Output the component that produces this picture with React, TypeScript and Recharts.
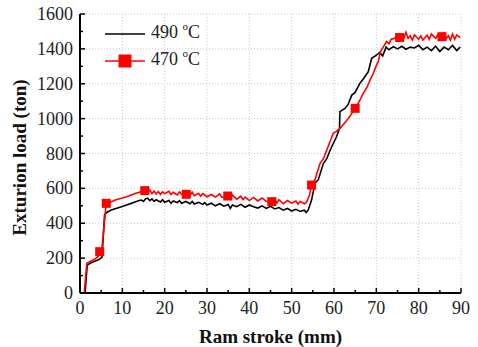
import React from 'react';
import { ComposedChart, Line, Scatter, XAxis, YAxis, CartesianGrid } from 'recharts';

// 490 °C extrusion load vs ram stroke
const X490 = [1.2, 1.7, 2.5, 3.5, 4.5, 5.2, 5.8, 6.5, 7.4, 8.5, 9.8, 11, 12.1, 13, 14, 14.5, 15, 15.5, 16, 16.5, 17, 17.5, 18, 19, 19.5, 20, 21, 21.5, 22, 23, 23.5, 24, 25, 26, 26.5, 27, 28, 29, 29.5, 30, 31, 32, 33, 34, 35, 35.5, 36, 37, 38, 39, 40, 41, 42, 43, 44, 45, 46, 47, 48, 49, 50, 51, 52, 53, 53.4, 53.9, 54.7, 55.5, 56.3, 57.5, 58.3, 59.1, 60.6, 61.3, 61.4, 62.6, 63.3, 64.2, 65, 66.1, 67, 68.1, 68.9, 70.1, 70.8, 71.5, 72.3, 73, 74, 75, 76, 77, 78, 79, 80, 81, 82, 83, 84, 85, 86, 87, 88, 89, 89.8];
const Y490 = [0, 160, 172, 182, 192, 205, 450, 465, 476, 485, 495, 505, 514, 522, 530, 533, 525, 540, 543, 530, 540, 525, 535, 522, 535, 520, 530, 515, 528, 518, 530, 515, 525, 512, 525, 510, 520, 508, 518, 505, 515, 500, 512, 498, 508, 485, 505, 495, 508, 492, 505, 495, 487, 500, 485, 497, 482, 490, 475, 485, 470, 480, 468, 475, 462, 476, 533, 629, 650, 744, 770, 820, 896, 944, 1040, 1059, 1080, 1135, 1150, 1202, 1230, 1269, 1346, 1365, 1380, 1360, 1410, 1395, 1413, 1400, 1415, 1398, 1410, 1405, 1420, 1395, 1410, 1390, 1415, 1385, 1410, 1395, 1420, 1390, 1410];

// 470 °C
const X470 = [1.0, 1.6, 2.5, 3.5, 4.25, 4.65, 5.2, 6.2, 7.4, 8.5, 9.8, 11, 12.1, 13, 14, 15.3, 16, 16.5, 17, 17.5, 18, 18.5, 19, 19.5, 20, 21, 21.5, 22, 23, 23.5, 24, 25.1, 26, 26.5, 27, 28, 28.5, 29, 30, 31, 32, 33, 33.5, 34.9, 35.5, 36, 37, 38, 38.5, 39, 40, 41, 42, 43, 44, 45.3, 46, 46.5, 47, 48, 49, 50, 51, 51.5, 52, 53, 53.5, 54.2, 54.7, 55.5, 56.7, 57.5, 58.3, 59.1, 59.8, 60.5, 61.4, 62.5, 63.4, 64.2, 65, 66, 66.9, 67.8, 68.5, 69.3, 69.9, 70.5, 70.9, 71.7, 72.4, 73, 73.5, 74.4, 74.8, 75.5, 76, 76.5, 77, 77.5, 78, 78.5, 79, 80, 80.5, 81, 82, 82.5, 83, 84, 84.5, 85, 86, 86.5, 87, 87.5, 88, 88.5, 89, 89.8];
const Y470 = [0, 170, 182, 195, 208, 237, 260, 514, 524, 535, 543, 552, 562, 570, 578, 587, 575, 590, 570, 585, 568, 582, 565, 580, 570, 583, 565, 578, 562, 580, 565, 566, 562, 578, 558, 572, 555, 570, 552, 565, 550, 568, 548, 556, 540, 562, 538, 555, 535, 550, 530, 548, 528, 545, 525, 524, 540, 515, 535, 512, 530, 515, 528, 510, 525, 512, 520, 560, 619, 650, 744, 770, 820, 870, 916, 925, 944, 975, 1002, 1030, 1059, 1100, 1145, 1180, 1221, 1260, 1298, 1330, 1380, 1413, 1442, 1430, 1455, 1461, 1479, 1455, 1480, 1460, 1495, 1460, 1475, 1450, 1480, 1455, 1475, 1450, 1478, 1455, 1485, 1460, 1480, 1455, 1490, 1460, 1475, 1450, 1485, 1455, 1480, 1465];

// square markers on the 470 °C curve
const MARK_X = [4.65, 6.2, 15.3, 25.1, 34.9, 45.3, 54.7, 65, 75.5, 85.5];
const MARK_Y = [237, 514, 587, 566, 556, 524, 619, 1059, 1465, 1470];

const X_TICKS = [0, 5, 10, 15, 20, 25, 30, 35, 40, 45, 50, 55, 60, 65, 70, 75, 80, 85, 90];
const X_MAJOR = [10, 20, 30, 40, 50, 60, 70, 80, 90];
const Y_TICKS = [0, 100, 200, 300, 400, 500, 600, 700, 800, 900, 1000, 1100, 1200, 1300, 1400, 1500, 1600];
const Y_MAJOR = [200, 400, 600, 800, 1000, 1200, 1400, 1600];

const FONT = '"Liberation Serif", "Times New Roman", serif';

const data490 = X490.map((x, i) => ({ x, y: Y490[i] }));
const data470 = X470.map((x, i) => ({ x, y: Y470[i] }));
const marks = MARK_X.map((x, i) => ({ x, y: MARK_Y[i] }));

function XTick({ x, y, payload }: any) {
  const v = payload.value;
  const major = v % 10 === 0;
  return (
    <g>
      <line x1={x} x2={x} y1={y} y2={y - (major ? 5 : 3)} stroke="#000" strokeWidth={1.5} />
      {major && (
        <text x={x} y={y + 21} textAnchor="middle" fontFamily={FONT} fontSize={18} fill="#222">{v}</text>
      )}
    </g>
  );
}

function YTick({ x, y, payload }: any) {
  const v = payload.value;
  const major = v % 200 === 0;
  return (
    <g>
      <line x1={x} x2={x + (major ? 5 : 3)} y1={y} y2={y} stroke="#000" strokeWidth={1.5} />
      {major && (
        <text x={x - 7} y={y + 6} textAnchor="end" fontFamily={FONT} fontSize={18} fill="#222">{v}</text>
      )}
    </g>
  );
}

const Square = (props: any) => {
  const { cx, cy } = props;
  return <rect x={cx - 4.5} y={cy - 4.5} width={9} height={9} fill="#ff0000" />;
};

export default function App() {
  return (
    <div style={{ position: 'absolute', left: 0, top: 0, width: 478, height: 347, background: '#fff' }}>
      <ComposedChart width={478} height={347} margin={{ top: 14, right: 17, left: 0, bottom: 0 }}>
        <CartesianGrid stroke="#c8c8c8" strokeDasharray="1 2" verticalValues={X_MAJOR} horizontalValues={Y_MAJOR} />
        <XAxis
          type="number" dataKey="x" domain={[0, 90]} ticks={X_TICKS} interval={0}
          height={54} tickSize={0} tickMargin={0} tickLine={false} tick={<XTick />}
          axisLine={{ stroke: '#000', strokeWidth: 2 }}
          label={(p: any) => {
            const vb = p.viewBox;
            return (
              <text x={vb.x + vb.width / 2} y={vb.y + vb.height - 4} textAnchor="middle" fontFamily={FONT} fontSize={19} fontWeight="bold" fill="#111">
                Ram stroke (mm)
              </text>
            );
          }}
        />
        <YAxis
          type="number" dataKey="y" domain={[0, 1600]} ticks={Y_TICKS} interval={0}
          width={80} tickSize={0} tickMargin={0} tickLine={false} tick={<YTick />}
          axisLine={{ stroke: '#000', strokeWidth: 2 }}
          label={(p: any) => {
            const vb = p.viewBox;
            const cx = 26;
            const cy = vb.y + vb.height / 2 + 4;
            return (
              <text x={cx} y={cy} transform={`rotate(-90 ${cx} ${cy})`} textAnchor="middle" fontFamily={FONT} fontSize={19} fontWeight="bold" fill="#111">
                Exturion load (ton)
              </text>
            );
          }}
        />
        <Line data={data490} dataKey="y" type="linear" stroke="#000" strokeWidth={1.6} dot={false} isAnimationActive={false} />
        <Line data={data470} dataKey="y" type="linear" stroke="#ff0000" strokeWidth={1.6} dot={false} isAnimationActive={false} />
        <Scatter data={marks} dataKey="y" fill="#ff0000" shape={<Square />} isAnimationActive={false} />
      </ComposedChart>
      {/* legend */}
      <div style={{ position: 'absolute', left: 104, top: 20, fontFamily: FONT, fontSize: 18, color: '#222', lineHeight: '25px' }}>
        <div style={{ display: 'flex', alignItems: 'center' }}>
          <svg width={42} height={14}><line x1={1} x2={41} y1={7} y2={7} stroke="#000" strokeWidth={1.5} /></svg>
          <span style={{ marginLeft: 5 }}>490 <span style={{ fontSize: 11, position: 'relative', top: -8 }}>o</span>C</span>
        </div>
        <div style={{ display: 'flex', alignItems: 'center' }}>
          <svg width={42} height={14}>
            <line x1={1} x2={41} y1={7} y2={7} stroke="#ff0000" strokeWidth={1.5} />
            <rect x={14.5} y={0.5} width={13} height={13} fill="#ff0000" />
          </svg>
          <span style={{ marginLeft: 5 }}>470 <span style={{ fontSize: 11, position: 'relative', top: -8 }}>o</span>C</span>
        </div>
      </div>
    </div>
  );
}
